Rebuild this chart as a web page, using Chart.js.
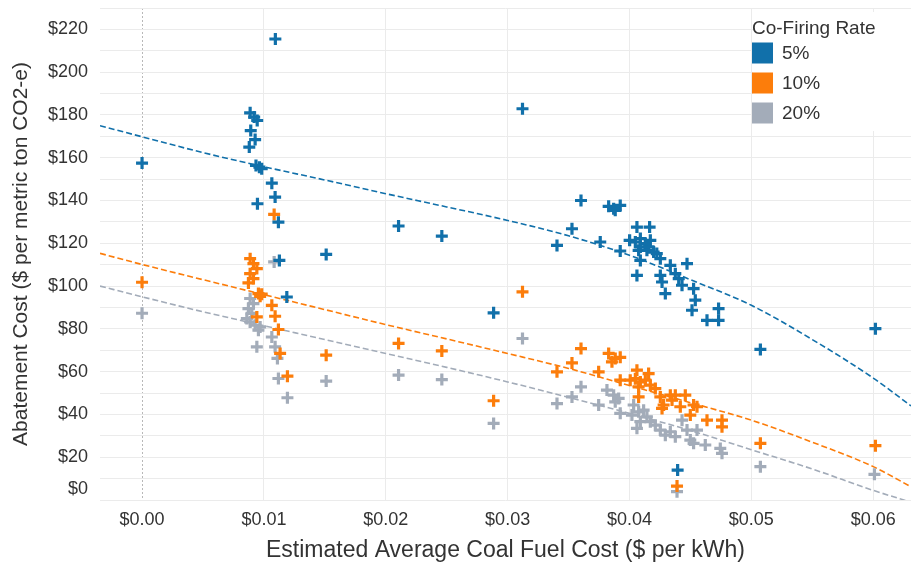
<!DOCTYPE html>
<html>
<head>
<meta charset="utf-8">
<script src="https://cdn.jsdelivr.net/npm/chart.js@4.4.1/dist/chart.umd.min.js"></script>
<style>
  html, body { margin: 0; padding: 0; background: #fff; }
  #wrap { width: 911px; height: 565px; }
</style>
</head>
<body>
<div id="wrap"><canvas id="chart" width="911" height="565"></canvas></div>
<script>
// Co-firing rates (legend)
const rates = ['5%', '10%', '20%'];
const rateColors = ['#1170aa', '#fc7d0b', '#a3acb9'];

// 5% co-firing: fuel cost ($/kWh) and abatement cost ($/t)
const fuel5 = [0, 0.01094, 0.00887, 0.0092, 0.00945, 0.00892, 0.00928, 0.0088, 0.00935, 0.00963, 0.00982,
  0.01065, 0.01092, 0.00947, 0.01119, 0.01127, 0.01188, 0.01511, 0.02105, 0.0246, 0.03122, 0.02885,
  0.03405, 0.03528, 0.03602, 0.0376, 0.03924, 0.03829, 0.03883, 0.03924, 0.0387, 0.04061, 0.04165,
  0.04001, 0.04048, 0.04089, 0.0413, 0.04171, 0.04075, 0.04143, 0.04198, 0.04224, 0.04089, 0.04253,
  0.04061, 0.04335, 0.04472, 0.04253, 0.04376, 0.04404, 0.04267, 0.04431, 0.04294, 0.04526, 0.0454,
  0.04513, 0.04636, 0.04731, 0.04731, 0.05074, 0.06018, 0.04395, 0.04089, 0.04157];
const cost5 = [157.5, 215.5, 181, 179, 177.4, 172.7, 168.5, 165, 156.4, 155.6, 154.9,
  148.1, 141.6, 138.5, 129.9, 112, 94.9, 114.8, 128.1, 123.4, 182.9, 87.5,
  119, 126.8, 140, 120.6, 116.4, 137.3, 135.4, 137.7, 136.2, 127.6, 127.6,
  121.4, 120.6, 122.2, 119.9, 121.4, 116.7, 116.7, 115.9, 115.2, 112, 112.8,
  105, 109.7, 110.5, 105, 105.8, 103.5, 101.9, 100.4, 96.5, 98.8, 93.4,
  88.7, 84, 89.5, 84, 70.4, 80.1, 14, 118.3, 118.3];

// 10% co-firing
const fuel10 = [0, 0.01084, 0.00887, 0.00914, 0.00942, 0.00887, 0.00914, 0.00873, 0.00955, 0.00969, 0.00982,
  0.01065, 0.01092, 0.00942, 0.01119, 0.01133, 0.01193, 0.01511, 0.02105, 0.0246, 0.03122, 0.02885,
  0.03405, 0.03528, 0.03602, 0.03747, 0.03924, 0.03829, 0.03883, 0.03924, 0.03856, 0.04061, 0.04157,
  0.04006, 0.04048, 0.04089, 0.0413, 0.04075, 0.04171, 0.04212, 0.04075, 0.04253, 0.04335, 0.0428,
  0.04349, 0.04376, 0.04417, 0.04458, 0.04526, 0.04554, 0.04499, 0.04636, 0.04759, 0.04759, 0.05074,
  0.06018, 0.0439, 0.04267];
const cost10 = [101.8, 133.5, 112.8, 110.5, 108.2, 105.8, 103.5, 101.5, 96.5, 95.2, 96.2,
  91, 85.9, 85.6, 79.7, 68.5, 57.9, 67.7, 73.2, 69.7, 97.3, 46.4,
  59.9, 64.1, 70.8, 59.9, 56, 68.5, 66.2, 66.7, 64.6, 60.7, 59.1,
  56, 56.7, 55.2, 56, 52.9, 53.7, 52.1, 48.2, 48.2, 49, 44.4,
  46.7, 49, 43.6, 49, 44.4, 43.6, 39.7, 37.3, 37.3, 34.2, 26.5,
  25.4, 6.5, 42.8];

// 20% co-firing
const fuel20 = [0, 0.01084, 0.00887, 0.00914, 0.00873, 0.009, 0.0086, 0.00887, 0.00928, 0.00955, 0.00969,
  0.00942, 0.01065, 0.01092, 0.01111, 0.01119, 0.01193, 0.01511, 0.02105, 0.0246, 0.03122, 0.02885,
  0.03405, 0.03528, 0.03602, 0.03747, 0.03815, 0.0387, 0.03911, 0.03883, 0.03924, 0.04034, 0.04075,
  0.0402, 0.04116, 0.04143, 0.04061, 0.04089, 0.04171, 0.04212, 0.04253, 0.04294, 0.04335, 0.04376,
  0.04431, 0.04472, 0.04499, 0.04554, 0.04526, 0.04622, 0.04745, 0.04759, 0.05074, 0.0601, 0.0439];
const cost20 = [87.3, 111.3, 94.2, 91.8, 89.5, 87.2, 84.8, 83.2, 81.7, 79.4, 80.9,
  71.6, 76.2, 71.6, 66.2, 56.8, 47.8, 55.6, 58.4, 56.3, 75.5, 35.8,
  45.1, 48.2, 52.9, 44.4, 51.4, 49, 47.5, 45.9, 40.5, 44.4, 41.2,
  39.7, 42, 38.9, 33.5, 36.6, 36.6, 35, 32.7, 30.3, 31.9, 29.6,
  37.3, 32.7, 28, 32.7, 26.5, 25.7, 24.1, 21.8, 15.6, 12, 3.9];

// trend lines
const trendX = [-0.00345, 0, 0.005, 0.01, 0.015, 0.02, 0.025, 0.03, 0.035, 0.04, 0.045, 0.05, 0.055, 0.06, 0.0631];
const trend5 = [175, 169.8, 162.4, 155.8, 149.6, 143.2, 137, 130.7, 123.5, 114.4, 103, 91, 75, 57, 44];
const trend10 = [115.3, 110.1, 103, 96, 89, 82, 75.3, 68.5, 61.5, 53.5, 45.5, 37.3, 27, 15.6, 6.2];
const trend20 = [100, 95, 88, 81.5, 75, 68.5, 62, 55.2, 48, 40.5, 32.5, 23.5, 14.5, 4.5, -1];

// axes
const xTicks = [0, 0.01, 0.02, 0.03, 0.04, 0.05, 0.06];
const yGrid = [0, 10, 20, 30, 40, 50, 60, 70, 80, 90, 100, 110, 120, 130, 140, 150, 160, 170, 180, 190, 200, 210, 220, 230];

const FONT = '"Liberation Sans", Arial, sans-serif';
const TEXT = '#333333';

function pts(xs, ys) {
  return xs.map((x, i) => ({ x: x, y: ys[i] }));
}

const pointSets = [pts(fuel5, cost5), pts(fuel10, cost10), pts(fuel20, cost20)];
const trendSets = [trend5, trend10, trend20].map(t => pts(trendX, t));

const datasets = [];
pointSets.forEach((data, i) => {
  datasets.push({
    label: rates[i],
    data: data,
    pointStyle: 'cross',
    pointRadius: 6,
    pointBorderWidth: 3.2,
    borderColor: rateColors[i],
    backgroundColor: rateColors[i],
    showLine: false
  });
});
trendSets.forEach((data, i) => {
  datasets.push({
    label: rates[i] + ' trend',
    data: data,
    showLine: true,
    pointRadius: 0,
    borderColor: rateColors[i],
    borderWidth: 1.6,
    borderDash: [6, 3],
    cubicInterpolationMode: 'monotone'
  });
});

// legend drawn over the top-right corner of the plot
const legendBox = {
  id: 'legendBox',
  afterDraw(chart) {
    const ctx = chart.ctx;
    ctx.save();
    ctx.fillStyle = '#ffffff';
    ctx.fillRect(753, 12, 158, 119);
    ctx.fillStyle = TEXT;
    ctx.font = '19px ' + FONT;
    ctx.textBaseline = 'middle';
    ctx.textAlign = 'left';
    ctx.fillText('Co-Firing Rate', 752, 29);
    rates.forEach((r, i) => {
      const cy = 53 + i * 30;
      ctx.fillStyle = rateColors[i];
      ctx.fillRect(752, cy - 10.5, 21, 21);
      ctx.fillStyle = TEXT;
      ctx.fillText(r, 782, cy + 1);
    });
    // the $0 label sits nudged up off the bottom edge
    const y = chart.scales.y;
    ctx.font = '18px ' + FONT;
    ctx.textAlign = 'right';
    ctx.fillText('$0', y.right - 12, y.getPixelForValue(0) - 11);
    ctx.restore();
  }
};

new Chart(document.getElementById('chart'), {
  type: 'scatter',
  data: { datasets: datasets },
  plugins: [legendBox],
  options: {
    responsive: false,
    animation: false,
    layout: { autoPadding: false, padding: { top: 8, right: 0, left: 0, bottom: 0 } },
    plugins: {
      legend: { display: false },
      tooltip: { enabled: false }
    },
    scales: {
      x: {
        type: 'linear',
        min: -0.00345,
        max: 0.0631,
        afterBuildTicks: s => { s.ticks = xTicks.map(v => ({ value: v })); },
        afterFit: s => {
          s.height = 65;
          s.paddingLeft = 0;
          s.paddingRight = 0;
        },
        grid: {
          color: c => (c.tick && c.tick.value === 0 ? '#b8b8b8' : '#ebebeb'),
          lineWidth: 1,
          drawTicks: false
        },
        border: {
          display: false,
          dash: c => (c.tick && c.tick.value === 0 ? [2, 2] : []),
        },
        ticks: {
          autoSkip: false,
          padding: 9,
          color: TEXT,
          font: { family: FONT, size: 18 },
          callback: v => '$' + Number(v).toFixed(2)
        },
        title: {
          display: true,
          text: 'Estimated Average Coal Fuel Cost ($ per kWh)',
          color: TEXT,
          font: { family: FONT, size: 23 },
          padding: { top: 0, bottom: 1 }
        }
      },
      y: {
        min: 0,
        max: 230,
        afterBuildTicks: s => { s.ticks = yGrid.map(v => ({ value: v })); },
        afterFit: s => {
          s.width = 100;
          s.paddingTop = 0;
          s.paddingBottom = 0;
        },
        grid: { color: '#ebebeb', lineWidth: 1, drawTicks: false },
        border: { display: false },
        ticks: {
          autoSkip: false,
          padding: 12,
          color: TEXT,
          font: { family: FONT, size: 18 },
          callback: v => (v > 0 && v % 20 === 0 && v <= 220 ? '$' + v : '')
        },
        title: {
          display: true,
          text: 'Abatement Cost ($ per metric ton CO2-e)',
          color: TEXT,
          font: { family: FONT, size: 21 },
          padding: { top: 9, bottom: 0 }
        }
      }
    }
  }
});
</script>
</body>
</html>
